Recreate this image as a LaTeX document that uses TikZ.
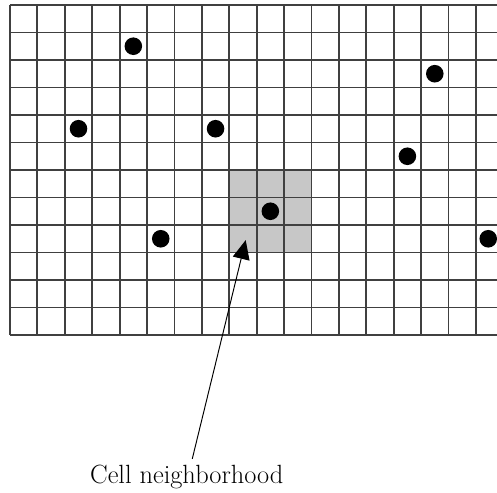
\documentclass[tikz,border=0pt]{standalone}
\usetikzlibrary{arrows.meta, calc}
\begin{document}
\begin{tikzpicture}[x=0.548cm, y=-0.55cm, gridline/.style={line width=1.05pt, black!75}]
  \useasboundingbox (-0.365,-0.18) rectangle (17.77,17.71);
  \clip (-0.365,-0.18) rectangle (17.77,17.71);
  \fill[black!22] (8,6) rectangle (11,9);
  \foreach \i in {0,...,18} \draw[gridline] (\i,0) -- (\i,12);
  \foreach \j in {0,...,12} \draw[gridline] (0,\j) -- (18,\j);
  \foreach \c in {(4.5,1.5), (15.5,2.5), (2.5,4.5), (7.5,4.5), (14.5,5.5), (9.5,7.5), (5.5,8.5), (17.45,8.5)}
    \fill \c circle (0.32);
  \coordinate (tip) at (8.6,8.55);
  \node[anchor=base, font=\fontsize{15}{18}\selectfont] (lbl) at (6.45,17.4) {Cell neighborhood};
  \draw[-{Triangle[length=0.38cm, width=0.34cm]}, line width=0.55pt] ($(lbl.north)+(0.2,0)$) -- (tip);
\end{tikzpicture}
\end{document}
